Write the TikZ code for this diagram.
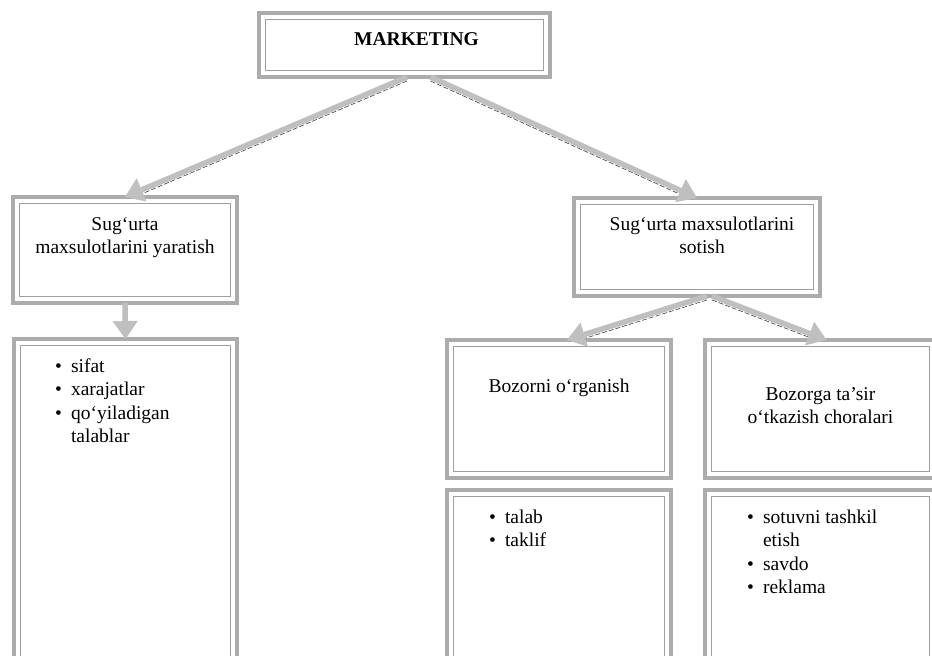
\documentclass[tikz,border=0pt]{standalone}
\usepackage{fontspec}
\setmainfont{Liberation Serif}
\usetikzlibrary{arrows.meta, positioning}
\newcommand{\mainsize}{\fontsize{19.5}{23.5}\selectfont}
\tikzset{
  frame/.style={draw=gray!65, line width=4.5pt, fill=white, inner sep=0pt, outer sep=0pt},
  innerline/.style={draw=gray!75, line width=0.8pt},
  txt/.style={align=center, inner sep=0pt, font=\mainsize},
  list/.style={inner sep=0pt, font=\mainsize},
  fat/.style={draw=gray!50, line width=5.5pt, -{Triangle[length=18pt, width=25pt, line width=0.4pt]},
    preaction={draw=gray!50!black, line width=0.6pt, dash pattern=on 5pt off 2pt, -, shorten >=18pt,
      transform canvas={yshift=-4pt}}}
}

\begin{document}
\begin{tikzpicture}[x=1pt, y=-1pt]
    \useasboundingbox (0,0) rectangle (932,656);
    \clip (0,0) rectangle (932,656);

    % frames
    \node[frame, minimum width=291pt, minimum height=64pt] (mkt) at (404.5,45) {};
    \node[frame, minimum width=224pt, minimum height=106pt] (create) at (125,250) {};
    \node[frame, minimum width=223pt, minimum height=341pt] (createlist) at (125.5,509.5) {};
    \node[frame, minimum width=246pt, minimum height=98pt] (sell) at (697,247) {};
    \node[frame, minimum width=224pt, minimum height=138pt] (study) at (559,409) {};
    \node[frame, minimum width=231pt, minimum height=138pt] (influence) at (820.5,409) {};
    \node[frame, minimum width=224pt, minimum height=200pt] (studylist) at (559,590) {};
    \node[frame, minimum width=231pt, minimum height=200pt] (influencelist) at (820.5,590) {};

    \foreach \n in {mkt,create,createlist,sell,study,influence,studylist,influencelist}
      \draw[innerline] ([shift={(6.5pt,-6.5pt)}]\n.north west) rectangle ([shift={(-6.5pt,6.5pt)}]\n.south east);

    % texts
    \node[txt, font=\mainsize\bfseries, below=19pt of mkt.north, xshift=12pt] (mkttxt) {MARKETING};
    \node[txt, below=20pt of create.north] (createtxt) {Sug‘urta\\maxsulotlarini yaratish};
    \node[txt, below=18.5pt of sell.north, xshift=5pt] (selltxt) {Sug‘urta maxsulotlarini\\sotish};
    \node[txt, below=39pt of study.north] (studytxt) {Bozorni o‘rganish};
    \node[txt, below=47pt of influence.north] (influencetxt) {Bozorga ta’sir\\o‘tkazish choralari};

    \node[list, below right=16.5pt and 41pt of createlist.north west] (createitems) {%
      \begin{tabular}{@{}l@{\hspace{9pt}}l@{}}
        \textbullet & sifat\\
        \textbullet & xarajatlar\\
        \textbullet & qo‘yiladigan\\
                    & talablar
      \end{tabular}};
    \node[list, below right=16.5pt and 42pt of studylist.north west] (studyitems) {%
      \begin{tabular}{@{}l@{\hspace{9pt}}l@{}}
        \textbullet & talab\\
        \textbullet & taklif
      \end{tabular}};
    \node[list, below right=16.5pt and 42pt of influencelist.north west] (influenceitems) {%
      \begin{tabular}{@{}l@{\hspace{9pt}}l@{}}
        \textbullet & sotuvni tashkil\\
                    & etish\\
        \textbullet & savdo\\
        \textbullet & reklama
      \end{tabular}};

    % arrows
    \draw[fat] ([xshift=2.5pt]mkt.south) -- (create.north);
    \draw[fat] ([xshift=26pt]mkt.south) -- (sell.north);
    \draw[fat] (create.south) -- (createlist.north);
    \draw[fat] ([xshift=10pt]sell.south) -- ([xshift=8pt]study.north);
    \draw[fat] ([xshift=15pt]sell.south) -- ([xshift=6pt]influence.north);
\end{tikzpicture}
\end{document}
